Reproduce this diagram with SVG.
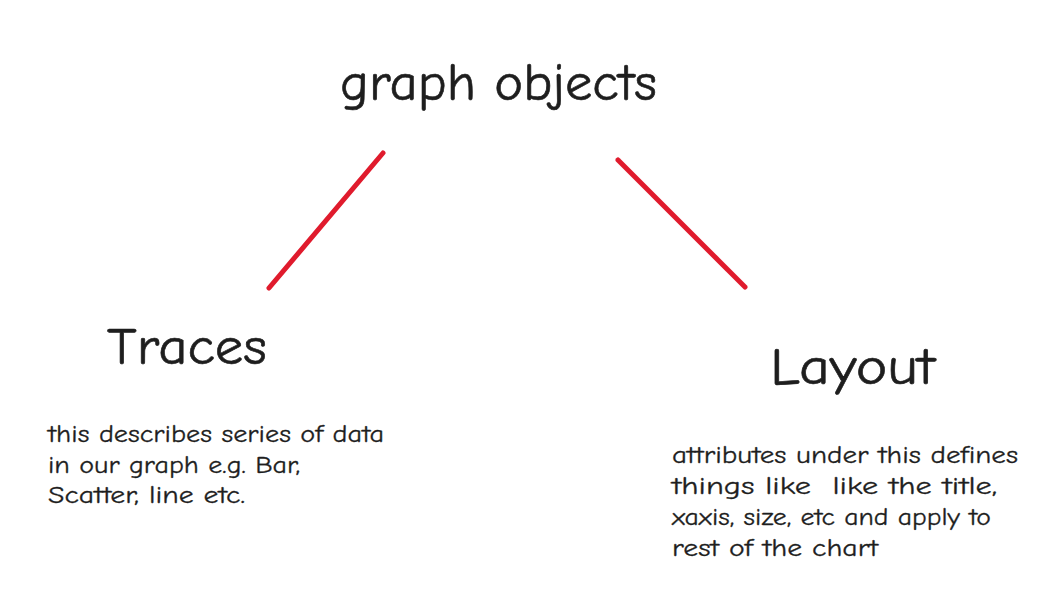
<svg xmlns="http://www.w3.org/2000/svg" width="1052" height="608" viewBox="0 0 1052 608">
<style>
text{font-family:"Comic Neue","Liberation Sans",sans-serif;fill:#1e1e1e}
.t{font-size:52px;stroke:#1e1e1e;stroke-width:0.6}
.s{font-size:25px;stroke:#1e1e1e;stroke-width:0.3}
.c{stroke:#e01b2d;stroke-width:5;stroke-linecap:round;fill:none}
</style>
<rect width="1052" height="608" fill="#ffffff"/>
<g id="connectors">
<line class="c" x1="269" y1="288" x2="383" y2="153"/>
<line class="c" x1="618" y1="160" x2="745" y2="287"/>
</g>
<g id="graph-objects">
<text class="t" x="340" y="100" textLength="317" lengthAdjust="spacingAndGlyphs">graph objects</text>
</g>
<g id="traces">
<text class="t" x="107" y="364" textLength="160" lengthAdjust="spacingAndGlyphs">Traces</text>
<text class="s" x="48" y="442" textLength="336" lengthAdjust="spacingAndGlyphs">this describes series of data</text>
<text class="s" x="48" y="473" textLength="252" lengthAdjust="spacingAndGlyphs">in our graph e.g. Bar,</text>
<text class="s" x="48" y="503" textLength="197" lengthAdjust="spacingAndGlyphs">Scatter, line etc.</text>
</g>
<g id="layout">
<text class="t" x="770" y="384" textLength="165" lengthAdjust="spacingAndGlyphs">Layout</text>
<text class="s" x="672" y="463" textLength="346" lengthAdjust="spacingAndGlyphs">attributes under this defines</text>
<text class="s" x="672" y="494" textLength="325" lengthAdjust="spacingAndGlyphs" xml:space="preserve">things like  like the title,</text>
<text class="s" x="672" y="525" textLength="319" lengthAdjust="spacingAndGlyphs">xaxis, size, etc and apply to</text>
<text class="s" x="672" y="556" textLength="206" lengthAdjust="spacingAndGlyphs">rest of the chart</text>
</g>
</svg>
